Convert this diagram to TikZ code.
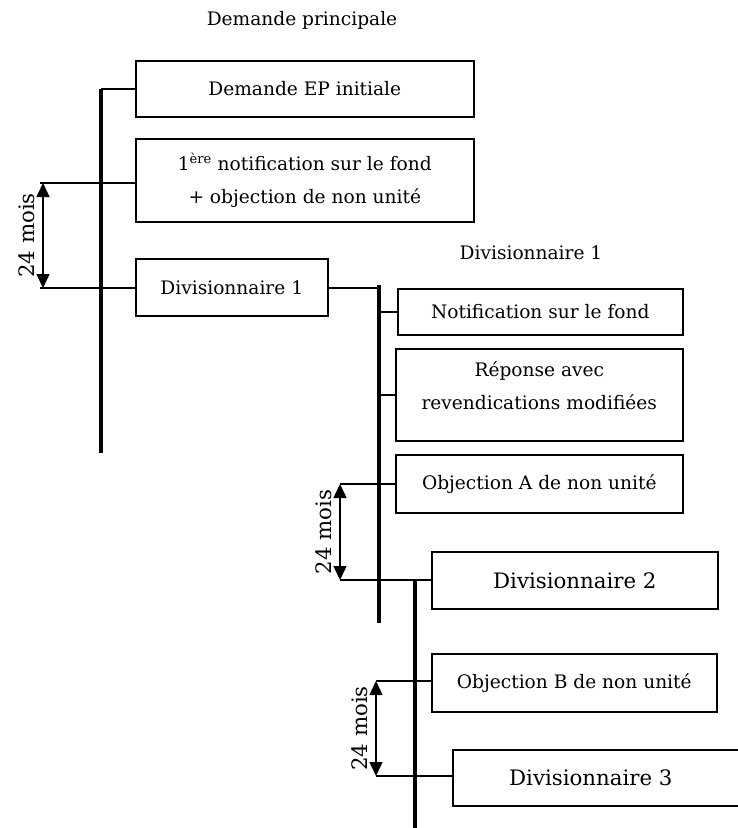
\documentclass[tikz,border=0pt]{standalone}
\usepackage{fontspec}
\setmainfont{DejaVu Serif}
\usetikzlibrary{positioning, arrows.meta}

\begin{document}
\begin{tikzpicture}[
    x=1pt, y=-1pt,
    font=\fontsize{18.6}{33}\selectfont,
    >={Triangle[length=14pt, width=13pt]},
    box/.style={rectangle, draw, line width=1.6pt, anchor=north west, align=center, inner sep=0pt},
    bigbox/.style={box, font=\fontsize{21.3}{26}\selectfont},
    axis/.style={line width=4pt},
    link/.style={line width=1.5pt},
    span/.style={<->, line width=1.5pt},
    months/.style={midway, anchor=south, rotate=90, inner sep=7pt, font=\fontsize{21.3}{26}\selectfont}
]
\useasboundingbox (0,0) rectangle (738,828);

% 1. Demande principale
\node (main) at (302,20) {Demande principale};
\node[box, minimum width=338pt, minimum height=56pt] at (135,60) (initial) {Demande EP initiale};
\node[box, minimum width=338pt, minimum height=83pt] at (135,138) (notif1) {1\textsuperscript{ère} notification sur le fond\\+ objection de non unité};
\node[box, minimum width=192pt, minimum height=57pt] at (135,258) (div1) {Divisionnaire 1};

\coordinate (d1top) at (101,89);
\coordinate (d1bot) at (101,453);
\coordinate (t1a) at (40,183);
\coordinate (t1b) at (40,288);

% 2. Divisionnaire 1
\node (head1) at (531,253) {Divisionnaire 1};
\node[box, minimum width=285pt, minimum height=46pt] at (397,288) (notif2) {Notification sur le fond};
\node[box, minimum width=287pt, minimum height=92pt] at (395,348) (reply) {Réponse avec\\revendications modifiées\\[-24pt]\strut};
\node[box, minimum width=287pt, minimum height=58pt] at (395,454) (objA) {Objection A de non unité};
\node[bigbox, minimum width=286pt, minimum height=57pt] at (431,551) (div2) {Divisionnaire 2};

\coordinate (d2top) at (379,285);
\coordinate (d2bot) at (379,623);
\coordinate (t2a) at (340,484);
\coordinate (t2b) at (340,580);

% 3. Divisionnaire 2
\node[box, minimum width=285pt, minimum height=58pt] at (431,653) (objB) {Objection B de non unité};
\node[bigbox, minimum width=300pt, minimum height=56pt] at (452,749) (div3) {\hspace*{-24pt}Divisionnaire 3};

\coordinate (d3top) at (415,579);
\coordinate (d3bot) at (415,830);
\coordinate (t3a) at (376,681);
\coordinate (t3b) at (376,776);

% Axes
\draw[axis] (d1top) -- (d1bot);
\draw[axis] (d2top) -- (d2bot);
\draw[axis] (d3top) -- (d3bot);

% Paths
\draw[link] (d1top) -- (d1top -| initial.west);
\draw[link] (t1a) -- (t1a -| notif1.west);
\draw[link] (t1b) -- (t1b -| div1.west);
\draw[link] (div1.east |- t1b) -- (d2top |- t1b);

\draw[link] (d2top |- notif2.west) -- (notif2.west);
\draw[link] (d2top |- reply.west) -- (reply.west);
\draw[link] (t2a) -- (t2a -| objA.west);
\draw[link] (t2b) -- (t2b -| div2.west);

\draw[link] (t3a) -- (t3a -| objB.west);
\draw[link] (t3b) -- (t3b -| div3.west);

% Delays
\draw[span] ([xshift=3pt]t1a) -- node[months] {24 mois} ([xshift=3pt]t1b);
\draw[span] (t2a) -- node[months] {24 mois} (t2b);
\draw[span] (t3a) -- node[months] {24 mois} (t3b);

\end{tikzpicture}
\end{document}
